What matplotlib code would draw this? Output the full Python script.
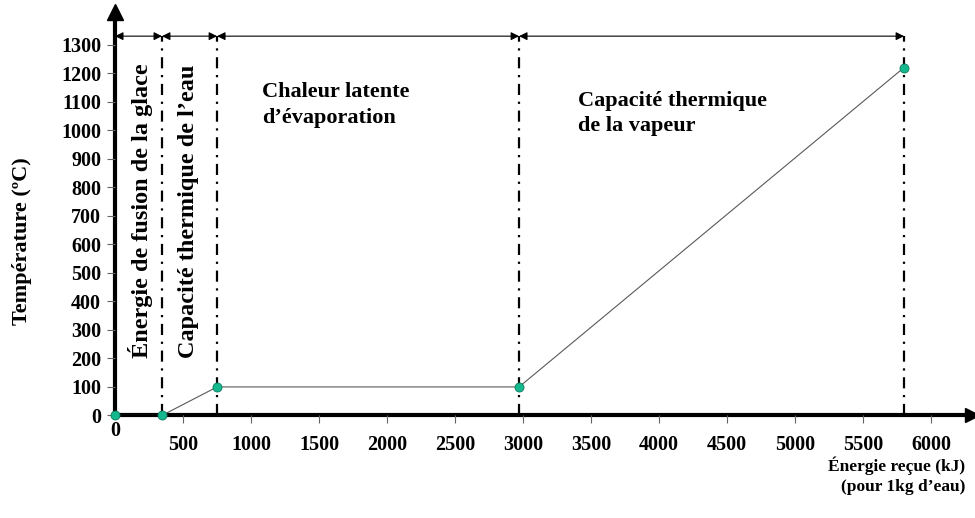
import matplotlib
matplotlib.use("Agg")
import matplotlib.pyplot as plt

# courbe de chauffage de 1 kg d'eau
energie = [0, 345, 750, 2970, 5800]
temperature = [0, 0, 100, 100, 1220]
limites = [345, 750, 2970, 5800]
xticks = [500, 1000, 1500, 2000, 2500, 3000, 3500, 4000, 4500, 5000, 5500, 6000]
yticks = [0, 100, 200, 300, 400, 500, 600, 700, 800, 900, 1000, 1100, 1200, 1300]

plt.rcParams['font.family'] = ['Liberation Serif', 'DejaVu Serif']
plt.rcParams['font.weight'] = 'bold'

fig = plt.figure(figsize=(9.75, 5.18), dpi=100)
ax = fig.add_axes([0.118, 0.198, 0.879, 0.779])
ax.set_xlim(0, 6300)
ax.set_ylim(0, 1415)

for s in ['top', 'right']:
    ax.spines[s].set_visible(False)
for s in ['left', 'bottom']:
    ax.spines[s].set_linewidth(3)
    ax.spines[s].set_zorder(1)

# fleches au bout des axes
ax.plot(1, 0, marker='>', ms=10, color='k', transform=ax.transAxes, clip_on=False)
ax.plot(0, 1, marker='^', ms=12, color='k', transform=ax.transAxes, clip_on=False)

ax.set_xticks(xticks)
ax.set_xticklabels([str(v) for v in xticks], fontsize=14.5, fontweight='bold')
ax.set_yticks(yticks)
ax.set_yticklabels([str(v) for v in yticks], fontsize=14.5, fontweight='bold')
ax.tick_params(axis='x', length=6, width=0.8, color='0.4', pad=8)
ax.tick_params(axis='y', length=6, width=0.8, color='0.4', pad=4)
ax.text(0, -55, '0', ha='center', va='center', fontsize=14.5, fontweight='bold')

# limites entre les phases
haut = 1330
for x in limites:
    ax.plot([x, x], [0, haut], color='k', lw=1.6, ls=(0, (5, 3, 1, 3)), zorder=2)

bornes = [0] + limites
for a, b in zip(bornes[:-1], bornes[1:]):
    ax.annotate('', xy=(a, haut), xytext=(b, haut),
                arrowprops=dict(arrowstyle='<|-|>', color='k', lw=0.8,
                                mutation_scale=12, shrinkA=0, shrinkB=0))

ax.plot(energie, temperature, color='0.35', lw=0.8, zorder=3)
ax.plot(energie, temperature, ls='none', marker='o', ms=6.5, mfc='#14b88e',
        mec='#0a7a5e', mew=0.6, zorder=4, clip_on=False)

ax.text(184, 717, 'Énergie de fusion de la glace', rotation=90, ha='center',
        va='center', fontsize=17.5, fontweight='bold')
ax.text(537, 717, 'Capacité thermique de l\u2019eau', rotation=90, ha='center',
        va='center', fontsize=17.5, fontweight='bold')
ax.text(1080, 1089, 'Chaleur latente\nd\u2019évaporation', ha='left', va='center',
        fontsize=16, fontweight='bold', linespacing=1.45)
ax.text(3400, 1058, 'Capacité thermique\nde la vapeur', ha='left', va='center',
        fontsize=16, fontweight='bold', linespacing=1.3)

ax.set_ylabel('Température (ºC)', fontsize=16, fontweight='bold')
ax.yaxis.set_label_coords(-0.097, 0.432)
fig.text(0.99, 0.082, 'Énergie reçue (kJ)\n(pour 1kg d\u2019eau)', ha='right',
         va='center', fontsize=12.5, fontweight='bold', linespacing=1.3)

fig.savefig('out.png', dpi=100)
